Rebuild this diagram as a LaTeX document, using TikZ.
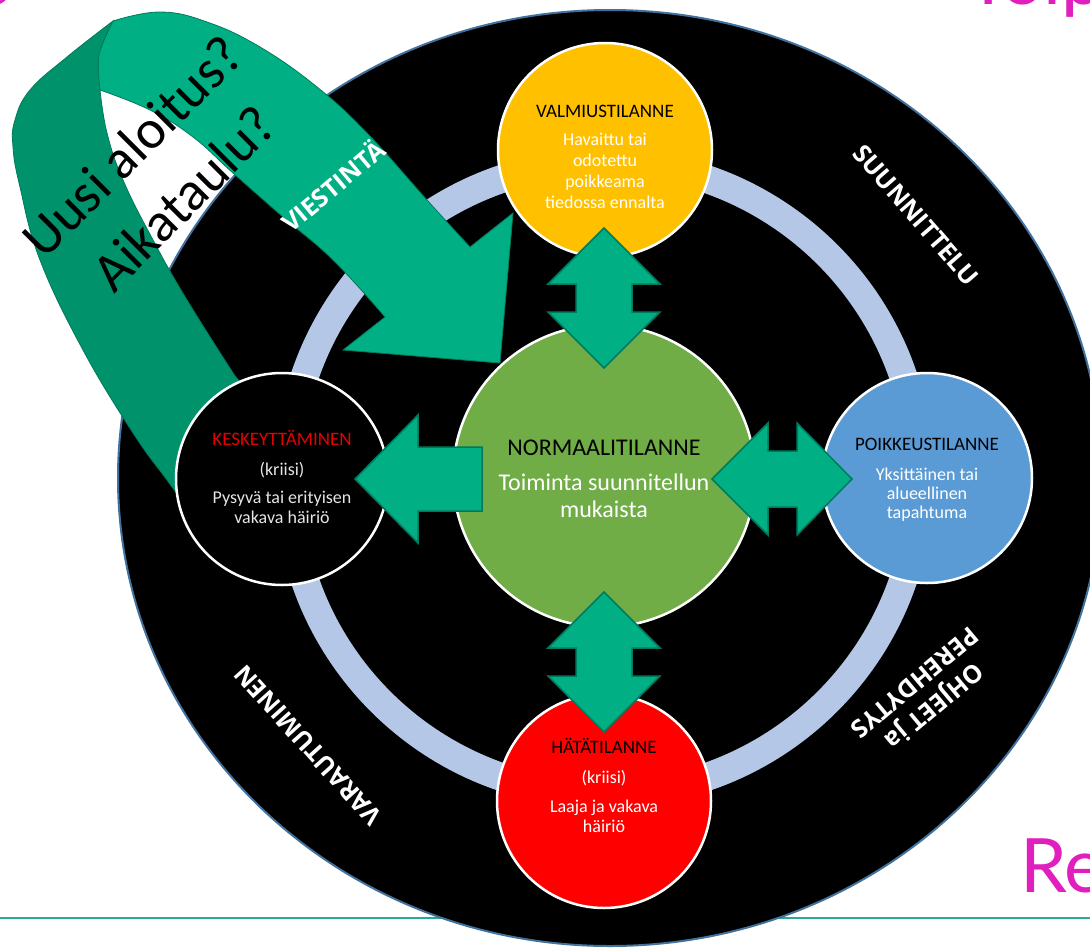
\documentclass[tikz,border=0pt]{standalone}
\usepackage{fontspec}
\setmainfont{Carlito}
\newfontfamily\labfont{Open Sans}
\newfontfamily\magfont{Lato}
\definecolor{ringblue}{RGB}{180,199,231}
\definecolor{agreen}{RGB}{0,176,132}
\definecolor{dgreen}{RGB}{0,146,106}
\definecolor{aedge}{RGB}{0,122,92}
\definecolor{yel}{RGB}{255,192,0}
\definecolor{ngreen}{RGB}{112,173,71}
\definecolor{pblue}{RGB}{91,155,213}
\definecolor{edgeblue}{RGB}{65,113,156}
\definecolor{mag}{RGB}{225,30,190}
\definecolor{tealline}{RGB}{40,170,150}
\definecolor{kred}{RGB}{230,0,0}
\begin{document}
\begin{tikzpicture}[x=1pt,y=-1pt,
  state/.style={circle, draw=white, line width=2.5pt, inner sep=0pt, minimum size=#1},
  ttl/.style={font=\fontsize{19}{20.7}\selectfont, align=center, inner sep=0pt, anchor=base},
  body/.style={font=\fontsize{18}{20.7}\selectfont, align=center, inner sep=0pt, anchor=base, text=white},
  bigttl/.style={font=\fontsize{24}{27}\selectfont, align=center, inner sep=0pt, anchor=base},
  lab/.style={font=\labfont\bfseries\fontsize{25}{31}\selectfont, text=white, align=center, inner sep=0pt},
  magtext/.style={font=\magfont\fontsize{75}{80}\selectfont, text=mag, inner sep=0pt},
  blockarrow/.style={fill=agreen, draw=aedge, line width=1.5pt, line join=miter},
  bandlight/.style={fill=agreen, draw=aedge, line width=0.8pt},
  banddark/.style={fill=dgreen, draw=aedge, line width=0.8pt}]
\useasboundingbox (0,0) rectangle (1090,948);
\clip (0,0) rectangle (1090,948);
\fill[white] (0,0) rectangle (1090,948);
% bottom rule
\draw[tealline, line width=2.5pt] (0,918) -- (1090,918);
% big black disc
\draw[edgeblue, line width=2pt, fill=black] (610,478) ellipse [x radius=492, y radius=468];
% magenta fragments
\node[magtext, anchor=base west] (re) at (1020,892) {Re};
\node[magtext, anchor=base west] (toip) at (966,4) {Toip};
\draw[mag, line width=3pt] (-4,-8) circle [radius=11];
% ring
\draw[ringblue, line width=28pt] (604,478) circle [radius=316];
% curved band, dark back part
\filldraw[banddark] (113,21) -- plot[smooth, tension=0.7] coordinates {(113,21) (67,57) (30,90) (15,120) (13,147) (20,187) (40,260) (83,350) (133,433) (167,480) (185,505)}
  -- (265,410) -- plot[smooth, tension=0.7] coordinates {(235,376) (187,300) (153,240) (123,180) (107,133) (100,90)}
  -- plot[smooth] coordinates {(100,90) (99,55) (113,21)} -- cycle;
% curved band, light front part with head
\filldraw[bandlight] (113,21) -- plot[smooth, tension=0.7] coordinates {(113,21) (160,12) (207,22) (260,47) (317,87) (367,133) (427,200) (470,247)}
  -- (513,213) -- (500,363) -- (343,350) -- (385,317)
  -- plot[smooth, tension=0.7] coordinates {(385,317) (333,260) (283,217) (233,173) (193,137) (150,110) (100,90)}
  -- plot[smooth] coordinates {(100,90) (99,55) (113,21)} -- cycle;
% circles
\node[state=214, fill=yel] (valm) at (605,150) {};
\node[state=302, fill=ngreen] (norm) at (604,476) {};
\node[state=210, fill=pblue] (poik) at (927,478) {};
\node[state=214, fill=red] (hata) at (604,801) {};
\node[state=212, fill=black] (kesk) at (282,479) {};
% block arrows
\filldraw[blockarrow] (604,228) -- (660,284) -- (632,284) -- (632,312) -- (660,312) -- (604,368) -- (548,312) -- (576,312) -- (576,284) -- (548,284) -- cycle;
\filldraw[blockarrow] (604,592) -- (660,648) -- (632,648) -- (632,676) -- (660,676) -- (604,732) -- (548,676) -- (576,676) -- (576,648) -- (548,648) -- cycle;
\filldraw[blockarrow] (712,479) -- (768,423) -- (768,451) -- (797,451) -- (797,423) -- (852,479) -- (797,535) -- (797,507) -- (768,507) -- (768,535) -- cycle;
\filldraw[blockarrow] (355,479) -- (418,415) -- (418,447) -- (482,447) -- (482,511) -- (418,511) -- (418,543) -- cycle;
% circle texts (multi-line nodes anchored at the baseline of their last line)
\node[ttl] (valmT) at (605,117) {VALMIUSTILANNE};
\node[body] (valmB) at (605,208) {Havaittu tai\\odotettu\\poikkeama\\tiedossa ennalta};
\node[ttl, text=kred] (keskT) at (282,445) {KESKEYTTÄMINEN};
\node[body, text=white!90!black] (keskK) at (282,475) {(kriisi)};
\node[body, text=white!90!black, font=\fontsize{18}{20}\selectfont] (keskB) at (282,523) {Pysyvä tai erityisen\\vakava häiriö};
\node[ttl] (poikT) at (927,450) {POIKKEUSTILANNE};
\node[body, font=\fontsize{18}{19}\selectfont] (poikB) at (927,518) {Yksittäinen tai\\alueellinen\\tapahtuma};
\node[ttl] (hataT) at (604,753) {HÄTÄTILANNE};
\node[body] (hataK) at (604,783) {(kriisi)};
\node[body, font=\fontsize{18}{20}\selectfont] (hataB) at (604,832) {Laaja ja vakava\\häiriö};
\node[bigttl] (normT) at (604,455) {NORMAALITILANNE};
\node[bigttl, text=white] (normB) at (604,517) {Toiminta suunnitellun\\mukaista};
% ring labels
\node[lab, rotate=40] (viest) at (332,185) {VIESTINTÄ};
\node[lab, rotate=-49] (suun) at (916,215) {SUUNNITTELU};
\node[lab, rotate=132] (varau) at (308,745) {VARAUTUMINEN};
\node[lab, rotate=-140] (ohjeet) at (925,695) {OHJEET ja\\PEREHDYTYS};
% question text
\node[font=\fontsize{55}{73}\selectfont, rotate=45, align=center, inner sep=0pt] (uusi) at (158,172) {Uusi aloitus?\\Aikataulu?};
\end{tikzpicture}
\end{document}
